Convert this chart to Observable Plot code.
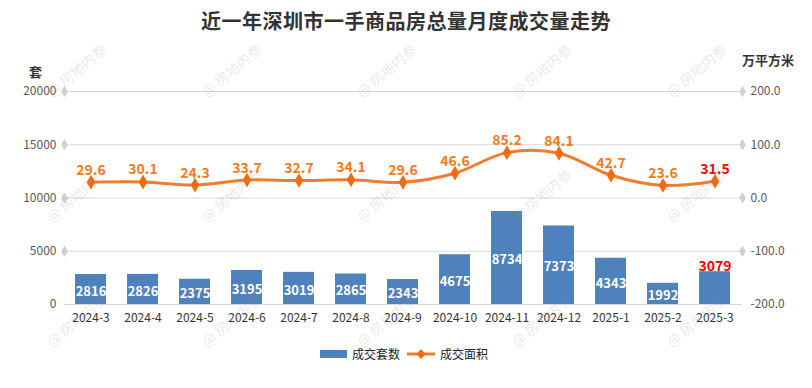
<!DOCTYPE html>
<html>
<head>
<meta charset="utf-8">
<script src="https://cdn.jsdelivr.net/npm/d3@7"></script>
<script src="https://cdn.jsdelivr.net/npm/@observablehq/plot@0.6"></script>
<style>
  body { margin: 0; background: #fff; font-family: "Noto Sans CJK SC", "Noto Sans", sans-serif; }
  #wrap { position: relative; width: 812px; height: 388px; overflow: hidden; }
  #title { position: absolute; top: 6px; left: 0; width: 812px; text-align: center; font-size: 20px; font-weight: bold; color: #333; letter-spacing: 0.5px; }
  #chart { position: absolute; top: 40px; left: 0; }
  .ytitle { position: absolute; font-size: 13px; font-weight: bold; color: #333; }
  #legend { position: absolute; top: 345px; left: 320px; display: flex; align-items: center; font-size: 12px; color: #222; }
  #legend span { margin-right: 4px; }
  .wm { position: absolute; font-size: 14px; color: rgba(150,150,150,0.22); transform: rotate(-40deg); white-space: nowrap; pointer-events: none; }
</style>
</head>
<body>
<div id="wrap">
  <div id="title"></div>
  <div id="chart"></div>
  <div class="ytitle" id="ylt" style="left:29px;top:62px;"></div>
  <div class="ytitle" id="yrt" style="left:742px;top:50px;"></div>
  <div id="legend"></div>
</div>
<script>
const titleText = "近一年深圳市一手商品房总量月度成交量走势";
const leftTitle = "套";
const rightTitle = "万平方米";
const seriesNames = ["成交套数", "成交面积"];
const months = ["2024-3","2024-4","2024-5","2024-6","2024-7","2024-8","2024-9","2024-10","2024-11","2024-12","2025-1","2025-2","2025-3"];
const units = [2816,2826,2375,3195,3019,2865,2343,4675,8734,7373,4343,1992,3079];
const area = [29.6,30.1,24.3,33.7,32.7,34.1,29.6,46.6,85.2,84.1,42.7,23.6,31.5];
const leftTicks = [0,5000,10000,15000,20000];
const rightDomain = [-200, 200];
const leftDomain = [0, 20000];
const watermark = "@ 房地内参";

const BLUE = "#4f81bd", ORANGE = "#ee7d31", DIAMOND = "#f26b10", LABEL = "#f47a20", RED = "#ff0000";

const toLeft = v => (v - rightDomain[0]) / (rightDomain[1] - rightDomain[0]) * (leftDomain[1] - leftDomain[0]) + leftDomain[0];
const fromLeft = d => (d - leftDomain[0]) / (leftDomain[1] - leftDomain[0]) * (rightDomain[1] - rightDomain[0]) + rightDomain[0];

const data = months.map((m, i) => ({month: m, units: units[i], area: area[i], areaY: toLeft(area[i]), last: i === months.length - 1}));

document.getElementById("title").textContent = titleText;
document.getElementById("ylt").textContent = leftTitle;
document.getElementById("yrt").textContent = rightTitle;

const font = "Noto Sans CJK SC, Noto Sans, sans-serif";

const chart = Plot.plot({
  width: 812,
  height: 300,
  marginTop: 51,
  marginBottom: 36,
  marginLeft: 64,
  marginRight: 70,
  style: {fontFamily: font, background: "transparent", overflow: "visible"},
  x: {type: "band", domain: months, paddingInner: 0.4, paddingOuter: 0.2, axis: null},
  y: {domain: leftDomain, axis: null},
  marks: [
    Plot.gridY(leftTicks, {stroke: "#d9d9d9", strokeOpacity: 1, strokeWidth: 1}),
    Plot.dot(leftTicks.filter(d => d > 0), {y: d => d, frameAnchor: "left", symbol: "diamond", r: 3.5, fill: "#d0d0d0"}),
    Plot.dot(leftTicks.filter(d => d > 0), {y: d => d, frameAnchor: "right", symbol: "diamond", r: 3.5, fill: "#d0d0d0"}),
    Plot.axisY({ticks: leftTicks, tickSize: 0, tickPadding: 8, fontSize: 12, fill: "#595959", label: null, tickFormat: d => String(d)}),
    Plot.axisY({anchor: "right", ticks: leftTicks, tickSize: 0, tickPadding: 8, fontSize: 12, fill: "#595959", label: null, tickFormat: d => fromLeft(d).toFixed(1)}),
    Plot.axisX({domain: months, tickSize: 0, tickPadding: 9, fontSize: 12, fill: "#333", label: null}),
    Plot.barY(data, {x: "month", y: "units", fill: BLUE}),
    Plot.text(data.filter(d => !d.last), {x: "month", y: d => d.units / 2, text: d => String(d.units), fill: "#fff", fontWeight: "bold", fontSize: 13, dy: 2}),
    Plot.text(data.filter(d => d.last), {x: "month", y: "units", text: d => String(d.units), fill: RED, fontWeight: "bold", fontSize: 14, lineAnchor: "bottom", dy: -1}),
    Plot.line(data, {x: "month", y: "areaY", stroke: ORANGE, strokeWidth: 3, curve: "catmull-rom"}),
    Plot.dot(data, {x: "month", y: "areaY", symbol: "diamond", r: 4.5, fill: DIAMOND}),
    Plot.text(data, {x: "month", y: "areaY", text: d => d.area.toFixed(1), fill: d => d.last ? RED : LABEL, fontWeight: "bold", fontSize: 14, dy: -12})
  ]
});
document.getElementById("chart").appendChild(chart);

// Legend
const legend = document.getElementById("legend");
legend.innerHTML =
  `<svg width="28" height="10"><rect x="0" y="1" width="27" height="8" fill="${BLUE}"/></svg>` +
  `<span style="margin-left:4px">${seriesNames[0]}</span>` +
  `<svg width="30" height="12" style="margin-left:2px"><line x1="1" y1="6" x2="29" y2="6" stroke="${ORANGE}" stroke-width="3"/><path d="M15 1 L19.5 6 L15 11 L10.5 6 Z" fill="${DIAMOND}"/></svg>` +
  `<span style="margin-left:4px">${seriesNames[1]}</span>`;

// Watermarks
const wrap = document.getElementById("wrap");
for (let r = 0; r < 3; r++) {
  for (let c = 0; c < 5; c++) {
    const w = document.createElement("div");
    w.className = "wm";
    w.textContent = watermark;
    w.style.left = (40 + c * 155) + "px";
    w.style.top = (60 + r * 125) + "px";
    wrap.appendChild(w);
  }
}
</script>
</body>
</html>
